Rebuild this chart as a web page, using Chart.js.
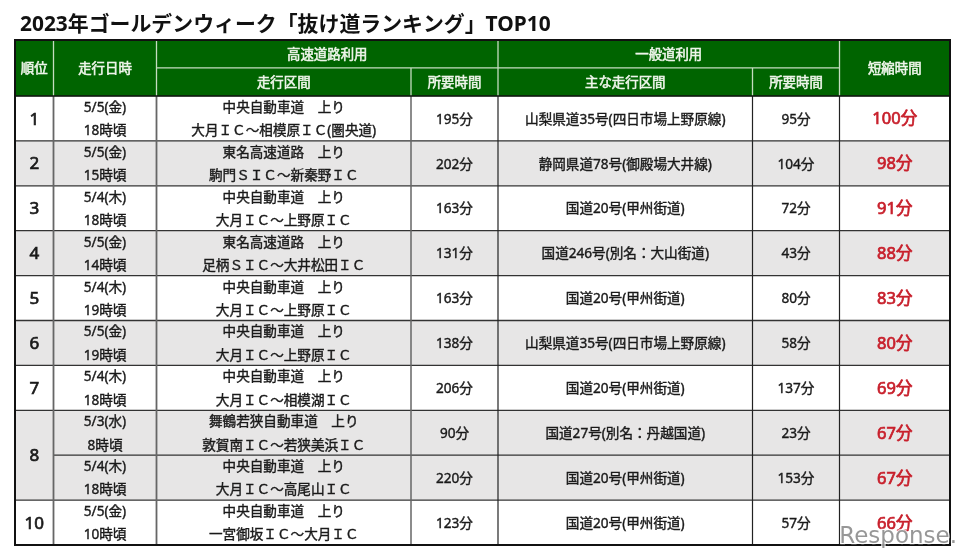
<!DOCTYPE html>
<html lang="ja">
<head>
<meta charset="utf-8">
<title>抜け道ランキング</title>
<script src="https://cdn.jsdelivr.net/npm/chart.js@4"></script>
<style>
    html, body { margin: 0; background: #fff; }
    canvas { display: block; }
</style>
</head>
<body>
<canvas id="rankingChart" width="968" height="558"></canvas>
<script>
const chartTitle = '2023年ゴールデンウィーク「抜け道ランキング」TOP10';

const rankLabels = ['1', '2', '3', '4', '5', '6', '7', '8', '8', '10'];
const driveDates = ['5/5(金)', '5/5(金)', '5/4(木)', '5/5(金)', '5/4(木)', '5/5(金)', '5/4(木)', '5/3(水)', '5/4(木)', '5/5(金)'];
const driveHours = ['18時頃', '15時頃', '18時頃', '14時頃', '19時頃', '19時頃', '18時頃', '8時頃', '18時頃', '10時頃'];
const highwayNames = [
    '中央自動車道　上り', '東名高速道路　上り', '中央自動車道　上り', '東名高速道路　上り', '中央自動車道　上り',
    '中央自動車道　上り', '中央自動車道　上り', '舞鶴若狭自動車道　上り', '中央自動車道　上り', '中央自動車道　上り'
];
const highwaySections = [
    '大月ＩＣ～相模原ＩＣ(圏央道)', '駒門ＳＩＣ～新秦野ＩＣ', '大月ＩＣ～上野原ＩＣ', '足柄ＳＩＣ～大井松田ＩＣ', '大月ＩＣ～上野原ＩＣ',
    '大月ＩＣ～上野原ＩＣ', '大月ＩＣ～相模湖ＩＣ', '敦賀南ＩＣ～若狭美浜ＩＣ', '大月ＩＣ～高尾山ＩＣ', '一宮御坂ＩＣ～大月ＩＣ'
];
const highwayMinutes = [195, 202, 163, 131, 163, 138, 206, 90, 220, 123];
const localRoads = [
    '山梨県道35号(四日市場上野原線)', '静岡県道78号(御殿場大井線)', '国道20号(甲州街道)', '国道246号(別名：大山街道)', '国道20号(甲州街道)',
    '山梨県道35号(四日市場上野原線)', '国道20号(甲州街道)', '国道27号(別名：丹越国道)', '国道20号(甲州街道)', '国道20号(甲州街道)'
];
const localMinutes = [95, 104, 72, 43, 80, 58, 137, 23, 153, 57];
const savedMinutes = [100, 98, 91, 88, 83, 80, 69, 67, 67, 66];
const shadedRows = [1, 3, 5, 7, 8];

// layout of the table, in x scale units and row units
const colEdges = [0, 38.5, 141.5, 396, 483, 737.5, 824.5, 935];
const headerTop = -1.247;
const headerMid = -0.624;
const rowCount = rankLabels.length;

const GREEN = '#006400';
const GREY = '#e7e6e6';
const RED = '#c8202c';
const JP = "'Noto Sans', 'Noto Sans CJK JP'";

const tablePlugin = {
    id: 'tableCells',
    afterDatasetsDraw(chart) {
        const { ctx, scales: { x, y } } = chart;
        const px = v => x.getPixelForValue(v);
        const py = v => y.getPixelForValue(v);
        const colMid = (a, b) => (px(colEdges[a]) + px(colEdges[b])) / 2;

        const hLine = (v, a, b, color, width) => {
            ctx.strokeStyle = color;
            ctx.lineWidth = width;
            ctx.beginPath();
            ctx.moveTo(px(colEdges[a]), py(v));
            ctx.lineTo(px(colEdges[b]), py(v));
            ctx.stroke();
        };
        const vLine = (i, from, to, color, width) => {
            ctx.strokeStyle = color;
            ctx.lineWidth = width;
            ctx.beginPath();
            ctx.moveTo(px(colEdges[i]), py(from));
            ctx.lineTo(px(colEdges[i]), py(to));
            ctx.stroke();
        };
        const text = (str, cx, cy, font, color, thicken = 0) => {
            // Noto Sans metrics sit the middle baseline a little high
            const ty = cy + 1.3;
            ctx.font = font;
            ctx.fillStyle = color;
            ctx.fillText(str, cx, ty);
            if (thicken) {
                // the regular CJK face is thinner than the reference, the bold one too heavy
                ctx.strokeStyle = color;
                ctx.lineWidth = thicken;
                ctx.strokeText(str, cx, ty);
            }
        };

        ctx.save();

        // body grid
        for (let r = 1; r < rowCount; r++) {
            const from = rankLabels[r] === rankLabels[r - 1] ? 1 : 0;
            hLine(r, from, 7, '#333', 1.3);
        }
        [[1, '#666', 1.8], [2, '#666', 1.8], [3, '#666', 1.5], [4, '#222', 1.2], [5, '#222', 1.2], [6, '#222', 1.2]]
            .forEach(([i, color, width]) => vLine(i, 0, rowCount, color, width));

        // header grid
        const headLine = '#c5dcc0';
        [1, 2, 4, 6].forEach(i => vLine(i, headerTop, 0, headLine, 1.3));
        [3, 5].forEach(i => vLine(i, headerMid, 0, headLine, 1.3));
        hLine(headerMid, 2, 6, headLine, 1.3);

        // outer frame
        ctx.strokeStyle = '#111';
        ctx.lineWidth = 2;
        ctx.strokeRect(px(0), py(headerTop), px(935) - px(0), py(rowCount) - py(headerTop));
        hLine(0, 0, 7, '#111', 1.6);

        ctx.textAlign = 'center';
        ctx.textBaseline = 'middle';

        // header text
        const headFont = `13.4px ${JP}`;
        const headColor = '#eef5ea';
        const headMidY = py(headerTop / 2);
        const upperY = py((headerTop + headerMid) / 2);
        const lowerY = py(headerMid / 2);
        const headCell = (str, a, b, cy) => text(str, colMid(a, b), cy, headFont, headColor, 0.55);
        headCell('順位', 0, 1, headMidY);
        headCell('走行日時', 1, 2, headMidY);
        headCell('高速道路利用', 2, 4, upperY);
        headCell('走行区間', 2, 3, lowerY);
        headCell('所要時間', 3, 4, lowerY);
        headCell('一般道利用', 4, 6, upperY);
        headCell('主な走行区間', 4, 5, lowerY);
        headCell('所要時間', 5, 6, lowerY);
        headCell('短縮時間', 6, 7, headMidY);

        // body text
        const bodyFont = `13.6px ${JP}`;
        const ink = '#1a1a1a';
        const bodyCell = (str, a, b, cy) => text(str, colMid(a, b), cy, bodyFont, ink, 0.4);
        rankLabels.forEach((rank, r) => {
            const merged = rank === rankLabels[r + 1];
            const repeat = rank === rankLabels[r - 1];
            if (!repeat) {
                text(rank, colMid(0, 1), py(r + (merged ? 1 : 0.5)), `17px ${JP}`, ink, 0.7);
            }
            bodyCell(driveDates[r], 1, 2, py(r + 0.24));
            bodyCell(driveHours[r], 1, 2, py(r + 0.76));
            bodyCell(highwayNames[r], 2, 3, py(r + 0.24));
            bodyCell(highwaySections[r], 2, 3, py(r + 0.76));
            bodyCell(highwayMinutes[r] + '分', 3, 4, py(r + 0.5));
            bodyCell(localRoads[r], 4, 5, py(r + 0.5));
            bodyCell(localMinutes[r] + '分', 5, 6, py(r + 0.5));
            text(savedMinutes[r] + '分', colMid(6, 7), py(r + 0.5), `16.5px ${JP}`, RED, 0.7);
        });

        // title
        ctx.textAlign = 'left';
        text(chartTitle, 20, 23.5, `bold 20.9px ${JP}`, '#111');

        // photo credit over the corner
        ctx.textAlign = 'right';
        ctx.font = "23px 'DejaVu Sans'";
        ctx.strokeStyle = 'rgba(255,255,255,0.75)';
        ctx.lineWidth = 2.5;
        ctx.strokeText('Response.', 957, 537);
        ctx.fillStyle = 'rgba(125,125,125,0.8)';
        ctx.fillText('Response.', 957, 537);
        ctx.restore();
    }
};

new Chart(document.getElementById('rankingChart'), {
    type: 'bar',
    data: {
        datasets: [
            {
                label: 'header',
                data: [{ x: [0, 935], y: headerTop / 2 }],
                backgroundColor: GREEN,
                barThickness: 56,
                grouped: false
            },
            {
                label: 'rows',
                data: rankLabels.map((rank, r) => ({ x: [0, 935], y: r + 0.5 })),
                backgroundColor: rankLabels.map((rank, r) => shadedRows.includes(r) ? GREY : '#ffffff'),
                barPercentage: 1,
                categoryPercentage: 1,
                grouped: false
            }
        ]
    },
    options: {
        indexAxis: 'y',
        responsive: false,
        animation: false,
        layout: { padding: { left: 15, right: 18, top: 40, bottom: 13 } },
        scales: {
            x: { type: 'linear', min: 0, max: 935, display: false },
            y: { type: 'linear', min: headerTop, max: rowCount, reverse: true, offset: false, display: false }
        },
        plugins: {
            legend: { display: false },
            tooltip: { enabled: false }
        }
    },
    plugins: [tablePlugin]
});
</script>
</body>
</html>
